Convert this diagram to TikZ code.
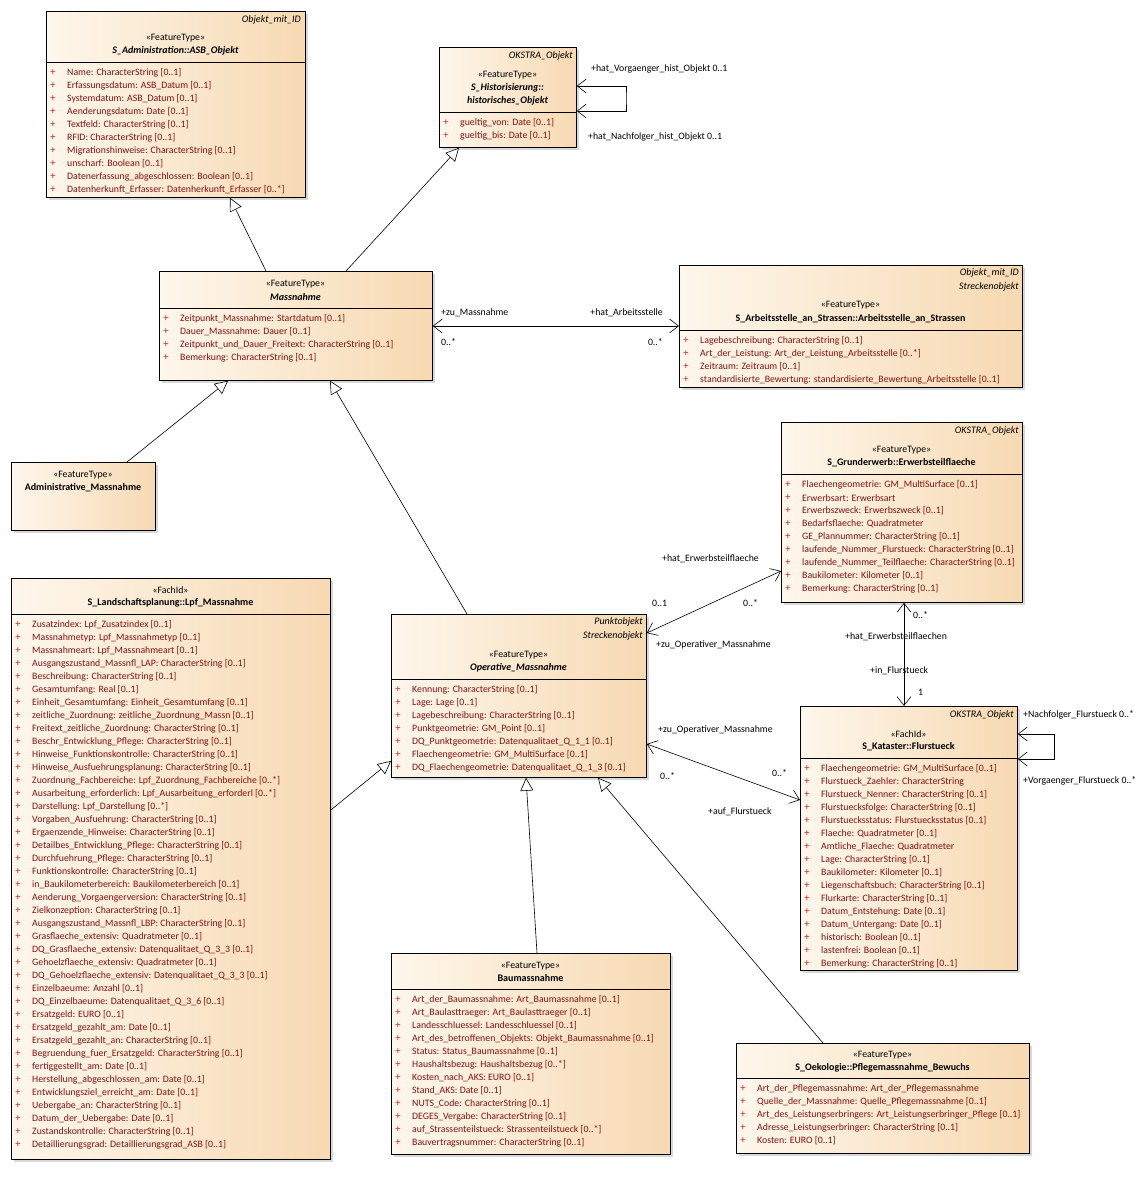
\documentclass[tikz,border=0pt]{standalone}
\usepackage{fontspec}
\setmainfont{Carlito}
\usetikzlibrary{arrows.meta,shadows,positioning}

\definecolor{clsleft}{RGB}{254,247,236}
\definecolor{clsright}{RGB}{247,217,178}
\definecolor{attrred}{RGB}{130,18,18}
\definecolor{plusred}{RGB}{200,30,30}

% attribute rows: name, left edge x, first row y, list
\newcommand{\classattrs}[4]{%
  \foreach \att [count=\k from 0] in {#4}{
    \node[attrplus] (#1p\k) at (#2+7, #3+13*\k) {+};
    \node[attrtext] (#1a\k) at (#2+21, #3+13*\k) {\att};
  }}

\begin{document}
\begin{tikzpicture}[
    x=1pt, y=-1pt,
    font=\fontsize{9.8}{11}\selectfont,
    classbox/.style={draw=black, line width=0.8pt, anchor=north west, inner sep=0pt,
        left color=clsleft, right color=clsright,
        drop shadow={shadow xshift=2.5pt, shadow yshift=-2.5pt, fill=black!30}},
    tagtext/.style={anchor=east, inner sep=0pt, font=\itshape},
    stereo/.style={inner sep=0pt},
    cname/.style={inner sep=0pt, font=\bfseries},
    acname/.style={inner sep=0pt, font=\bfseries\itshape},
    attrplus/.style={inner sep=0pt, text=plusred, font=\fontsize{10.5}{11}\selectfont},
    attrtext/.style={anchor=west, inner sep=0pt, text=attrred},
    role/.style={anchor=west, inner sep=0pt},
    divider/.style={line width=0.8pt},
    gen/.style={-{Triangle[open, fill=white, length=13pt, width=13pt]}, line width=0.6pt},
    assoc/.style={{Straight Barb[length=9pt, width=14pt]}-{Straight Barb[length=9pt, width=14pt]}, line width=0.6pt}
]
    \useasboundingbox (0,0) rectangle (1145,1189);

    % ASB_Objekt
    \node[classbox, minimum width=259, minimum height=186] (asb) at (46,11) {};
    \node[tagtext] (asbtag) at (301,20) {Objekt\_mit\_ID};
    \node[stereo] (asbst) at (175.5,38) {«FeatureType»};
    \node[acname] (asbnm) at (175.5,51) {S\_Administration::ASB\_Objekt};
    \draw[divider] (asb.west |- 0,62) -- (asb.east |- 0,62);
    \classattrs{asb}{46}{73}{Name: CharacterString [0..1],
        Erfassungsdatum: ASB\_Datum [0..1],
        Systemdatum: ASB\_Datum [0..1],
        Aenderungsdatum: Date [0..1],
        Textfeld: CharacterString [0..1],
        RFID: CharacterString [0..1],
        Migrationshinweise: CharacterString [0..1],
        unscharf: Boolean [0..1],
        Datenerfassung\_abgeschlossen: Boolean [0..1],
        Datenherkunft\_Erfasser: Datenherkunft\_Erfasser [0..*]}

    % historisches_Objekt
    \node[classbox, minimum width=137, minimum height=100] (hist) at (439,47) {};
    \node[tagtext] (histtag) at (573,56) {OKSTRA\_Objekt};
    \node[stereo] (histst) at (507.5,75) {«FeatureType»};
    \node[acname] (histnm) at (507.5,88) {S\_Historisierung::};
    \node[acname] (histnm2) at (507.5,101) {historisches\_Objekt};
    \draw[divider] (hist.west |- 0,112) -- (hist.east |- 0,112);
    \classattrs{hist}{439}{123}{gueltig\_von: Date [0..1],
        gueltig\_bis: Date [0..1]}

    % Massnahme
    \node[classbox, minimum width=273, minimum height=109] (mass) at (159,271) {};
    \node[stereo] (massst) at (295.5,284) {«FeatureType»};
    \node[acname] (massnm) at (295.5,297) {Massnahme};
    \draw[divider] (mass.west |- 0,308) -- (mass.east |- 0,308);
    \classattrs{mass}{159}{319}{Zeitpunkt\_Massnahme: Startdatum [0..1],
        Dauer\_Massnahme: Dauer [0..1],
        Zeitpunkt\_und\_Dauer\_Freitext: CharacterString [0..1],
        Bemerkung: CharacterString [0..1]}

    % Arbeitsstelle_an_Strassen
    \node[classbox, minimum width=343, minimum height=122] (arb) at (679,265) {};
    \node[tagtext] (arbtag) at (1019,273) {Objekt\_mit\_ID};
    \node[tagtext] (arbtag2) at (1019,287) {Streckenobjekt};
    \node[stereo] (arbst) at (850.5,305) {«FeatureType»};
    \node[cname] (arbnm) at (850.5,319) {S\_Arbeitsstelle\_an\_Strassen::Arbeitsstelle\_an\_Strassen};
    \draw[divider] (arb.west |- 0,330) -- (arb.east |- 0,330);
    \classattrs{arb}{679}{341}{Lagebeschreibung: CharacterString [0..1],
        Art\_der\_Leistung: Art\_der\_Leistung\_Arbeitsstelle [0..*],
        Zeitraum: Zeitraum [0..1],
        standardisierte\_Bewertung: standardisierte\_Bewertung\_Arbeitsstelle [0..1]}

    % Erwerbsteilflaeche
    \node[classbox, minimum width=241, minimum height=180] (erw) at (781,422) {};
    \node[tagtext] (erwtag) at (1019,431) {OKSTRA\_Objekt};
    \node[stereo] (erwst) at (901.5,450) {«FeatureType»};
    \node[cname] (erwnm) at (901.5,463) {S\_Grunderwerb::Erwerbsteilflaeche};
    \draw[divider] (erw.west |- 0,474) -- (erw.east |- 0,474);
    \classattrs{erw}{781}{485}{Flaechengeometrie: GM\_MultiSurface [0..1],
        Erwerbsart: Erwerbsart,
        Erwerbszweck: Erwerbszweck [0..1],
        Bedarfsflaeche: Quadratmeter,
        GE\_Plannummer: CharacterString [0..1],
        laufende\_Nummer\_Flurstueck: CharacterString [0..1],
        laufende\_Nummer\_Teilflaeche: CharacterString [0..1],
        Baukilometer: Kilometer [0..1],
        Bemerkung: CharacterString [0..1]}

    % Administrative_Massnahme
    \node[classbox, minimum width=144, minimum height=68] (adm) at (11,462) {};
    \node[stereo] (admst) at (83,475) {«FeatureType»};
    \node[cname] (admnm) at (83,488) {Administrative\_Massnahme};

    % Lpf_Massnahme
    \node[classbox, minimum width=319, minimum height=581] (lpf) at (11,578) {};
    \node[stereo] (lpfst) at (170.5,590) {«FachId»};
    \node[cname] (lpfnm) at (170.5,603) {S\_Landschaftsplanung::Lpf\_Massnahme};
    \draw[divider] (lpf.west |- 0,614) -- (lpf.east |- 0,614);
    \classattrs{lpf}{11}{625}{Zusatzindex: Lpf\_Zusatzindex [0..1],
        Massnahmetyp: Lpf\_Massnahmetyp [0..1],
        Massnahmeart: Lpf\_Massnahmeart [0..1],
        Ausgangszustand\_Massnfl\_LAP: CharacterString [0..1],
        Beschreibung: CharacterString [0..1],
        Gesamtumfang: Real [0..1],
        Einheit\_Gesamtumfang: Einheit\_Gesamtumfang [0..1],
        zeitliche\_Zuordnung: zeitliche\_Zuordnung\_Massn [0..1],
        Freitext\_zeitliche\_Zuordnung: CharacterString [0..1],
        Beschr\_Entwicklung\_Pflege: CharacterString [0..1],
        Hinweise\_Funktionskontrolle: CharacterString [0..1],
        Hinweise\_Ausfuehrungsplanung: CharacterString [0..1],
        Zuordnung\_Fachbereiche: Lpf\_Zuordnung\_Fachbereiche [0..*],
        Ausarbeitung\_erforderlich: Lpf\_Ausarbeitung\_erforderl [0..*],
        Darstellung: Lpf\_Darstellung [0..*],
        Vorgaben\_Ausfuehrung: CharacterString [0..1],
        Ergaenzende\_Hinweise: CharacterString [0..1],
        Detailbes\_Entwicklung\_Pflege: CharacterString [0..1],
        Durchfuehrung\_Pflege: CharacterString [0..1],
        Funktionskontrolle: CharacterString [0..1],
        in\_Baukilometerbereich: Baukilometerbereich [0..1],
        Aenderung\_Vorgaengerversion: CharacterString [0..1],
        Zielkonzeption: CharacterString [0..1],
        Ausgangszustand\_Massnfl\_LBP: CharacterString [0..1],
        Grasflaeche\_extensiv: Quadratmeter [0..1],
        DQ\_Grasflaeche\_extensiv: Datenqualitaet\_Q\_3\_3 [0..1],
        Gehoelzflaeche\_extensiv: Quadratmeter [0..1],
        DQ\_Gehoelzflaeche\_extensiv: Datenqualitaet\_Q\_3\_3 [0..1],
        Einzelbaeume: Anzahl [0..1],
        DQ\_Einzelbaeume: Datenqualitaet\_Q\_3\_6 [0..1],
        Ersatzgeld: EURO [0..1],
        Ersatzgeld\_gezahlt\_am: Date [0..1],
        Ersatzgeld\_gezahlt\_an: CharacterString [0..1],
        Begruendung\_fuer\_Ersatzgeld: CharacterString [0..1],
        fertiggestellt\_am: Date [0..1],
        Herstellung\_abgeschlossen\_am: Date [0..1],
        Entwicklungsziel\_erreicht\_am: Date [0..1],
        Uebergabe\_an: CharacterString [0..1],
        Datum\_der\_Uebergabe: Date [0..1],
        Zustandskontrolle: CharacterString [0..1],
        Detaillierungsgrad: Detaillierungsgrad\_ASB [0..1]}

    % Operative_Massnahme
    \node[classbox, minimum width=255, minimum height=163] (op) at (391,614) {};
    \node[tagtext] (optag) at (643,622) {Punktobjekt};
    \node[tagtext] (optag2) at (643,636) {Streckenobjekt};
    \node[stereo] (opst) at (518.5,655) {«FeatureType»};
    \node[acname] (opnm) at (518.5,668) {Operative\_Massnahme};
    \draw[divider] (op.west |- 0,679) -- (op.east |- 0,679);
    \classattrs{op}{391}{690}{Kennung: CharacterString [0..1],
        Lage: Lage [0..1],
        Lagebeschreibung: CharacterString [0..1],
        Punktgeometrie: GM\_Point [0..1],
        DQ\_Punktgeometrie: Datenqualitaet\_Q\_1\_1 [0..1],
        Flaechengeometrie: GM\_MultiSurface [0..1],
        DQ\_Flaechengeometrie: Datenqualitaet\_Q\_1\_3 [0..1]}

    % Flurstueck
    \node[classbox, minimum width=217, minimum height=264] (flur) at (800,706) {};
    \node[tagtext] (flurtag) at (1014,715) {OKSTRA\_Objekt};
    \node[stereo] (flurst) at (908.5,734) {«FachId»};
    \node[cname] (flurnm) at (908.5,747) {S\_Kataster::Flurstueck};
    \draw[divider] (flur.west |- 0,758) -- (flur.east |- 0,758);
    \classattrs{flur}{800}{769}{Flaechengeometrie: GM\_MultiSurface [0..1],
        Flurstueck\_Zaehler: CharacterString,
        Flurstueck\_Nenner: CharacterString [0..1],
        Flurstuecksfolge: CharacterString [0..1],
        Flurstuecksstatus: Flurstuecksstatus [0..1],
        Flaeche: Quadratmeter [0..1],
        Amtliche\_Flaeche: Quadratmeter,
        Lage: CharacterString [0..1],
        Baukilometer: Kilometer [0..1],
        Liegenschaftsbuch: CharacterString [0..1],
        Flurkarte: CharacterString [0..1],
        Datum\_Entstehung: Date [0..1],
        Datum\_Untergang: Date [0..1],
        historisch: Boolean [0..1],
        lastenfrei: Boolean [0..1],
        Bemerkung: CharacterString [0..1]}

    % Baumassnahme
    \node[classbox, minimum width=279, minimum height=201] (bau) at (391,953) {};
    \node[stereo] (baust) at (530.5,966) {«FeatureType»};
    \node[cname] (baunm) at (530.5,978) {Baumassnahme};
    \draw[divider] (bau.west |- 0,989) -- (bau.east |- 0,989);
    \classattrs{bau}{391}{1000}{Art\_der\_Baumassnahme: Art\_Baumassnahme [0..1],
        Art\_Baulasttraeger: Art\_Baulasttraeger [0..1],
        Landesschluessel: Landesschluessel [0..1],
        Art\_des\_betroffenen\_Objekts: Objekt\_Baumassnahme [0..1],
        Status: Status\_Baumassnahme [0..1],
        Haushaltsbezug: Haushaltsbezug [0..*],
        Kosten\_nach\_AKS: EURO [0..1],
        Stand\_AKS: Date [0..1],
        NUTS\_Code: CharacterString [0..1],
        DEGES\_Vergabe: CharacterString [0..1],
        auf\_Strassenteilstueck: Strassenteilstueck [0..*],
        Bauvertragsnummer: CharacterString [0..1]}

    % Pflegemassnahme_Bewuchs
    \node[classbox, minimum width=293, minimum height=110] (pfl) at (736,1043) {};
    \node[stereo] (pflst) at (882.5,1055) {«FeatureType»};
    \node[cname] (pflnm) at (882.5,1068) {S\_Oekologie::Pflegemassnahme\_Bewuchs};
    \draw[divider] (pfl.west |- 0,1078) -- (pfl.east |- 0,1078);
    \classattrs{pfl}{736}{1089}{Art\_der\_Pflegemassnahme: Art\_der\_Pflegemassnahme,
        Quelle\_der\_Massnahme: Quelle\_Pflegemassnahme [0..1],
        Art\_des\_Leistungserbringers: Art\_Leistungserbringer\_Pflege [0..1],
        Adresse\_Leistungserbringer: CharacterString [0..1],
        Kosten: EURO [0..1]}

    % Generalisierungen
    \draw[gen] (mass.north -| 266,0) -- (asb.south -| 230,0);
    \draw[gen] (mass.north -| 346,0) -- (hist.south -| 459,0);
    \draw[gen] (adm.north -| 127,0) -- (mass.south -| 228,0);
    \draw[gen] (op.north -| 467,0) -- (mass.south -| 330,0);
    \draw[gen] (lpf.east |- 0,810) -- (op.west |- 0,761);
    \draw[gen] (bau.north -| 537,0) -- (op.south -| 526,0);
    \draw[gen] (pfl.north -| 823,0) -- (op.south -| 598,0);

    % Assoziationen
    \coordinate (histloop) at (626,98);
    \draw[assoc] (hist.east |- 0,86) -| (histloop) |- (hist.east |- 0,111);
    \node[role] (histr1) at (591,69) {+hat\_Vorgaenger\_hist\_Objekt 0..1};
    \node[role] (histr2) at (588,137) {+hat\_Nachfolger\_hist\_Objekt 0..1};

    \draw[assoc] (mass.east |- 0,326) -- (arb.west |- 0,326);
    \node[role] (massr1) at (441,313) {+zu\_Massnahme};
    \node[role] (massm1) at (441,342) {0..*};
    \node[role, anchor=east] (arbr1) at (663,313) {+hat\_Arbeitsstelle};
    \node[role, anchor=east] (arbm1) at (663,342) {0..*};

    \draw[assoc] (op.east |- 0,633) -- (erw.west |- 0,571);
    \node[role] (erwr1) at (662,559) {+hat\_Erwerbsteilflaeche};
    \node[role] (opm1) at (652,603) {0..1};
    \node[role] (erwm1) at (743,603) {0..*};
    \node[role] (opr1) at (656,645) {+zu\_Operativer\_Massnahme};

    \draw[assoc] (op.east |- 0,744) -- (flur.west |- 0,800);
    \node[role] (opr2) at (658,730) {+zu\_Operativer\_Massnahme};
    \node[role] (opm2) at (660,776) {0..*};
    \node[role] (flurm1) at (772,773) {0..*};
    \node[role] (flurr1) at (708,812) {+auf\_Flurstueck};

    \draw[assoc] (erw.south -| 904,0) -- (flur.north -| 904,0);
    \node[role] (erwm2) at (913,615) {0..*};
    \node[role] (erwr2) at (845,637) {+hat\_Erwerbsteilflaechen};
    \node[role] (flurr2) at (870,671) {+in\_Flurstueck};
    \node[role] (flurm2) at (918,692) {1};

    \coordinate (flurloop) at (1054,746);
    \draw[assoc] (flur.east |- 0,734) -| (flurloop) |- (flur.east |- 0,759);
    \node[role] (flurr3) at (1023,715) {+Nachfolger\_Flurstueck 0..*};
    \node[role] (flurr4) at (1023,781) {+Vorgaenger\_Flurstueck 0..*};
\end{tikzpicture}
\end{document}
